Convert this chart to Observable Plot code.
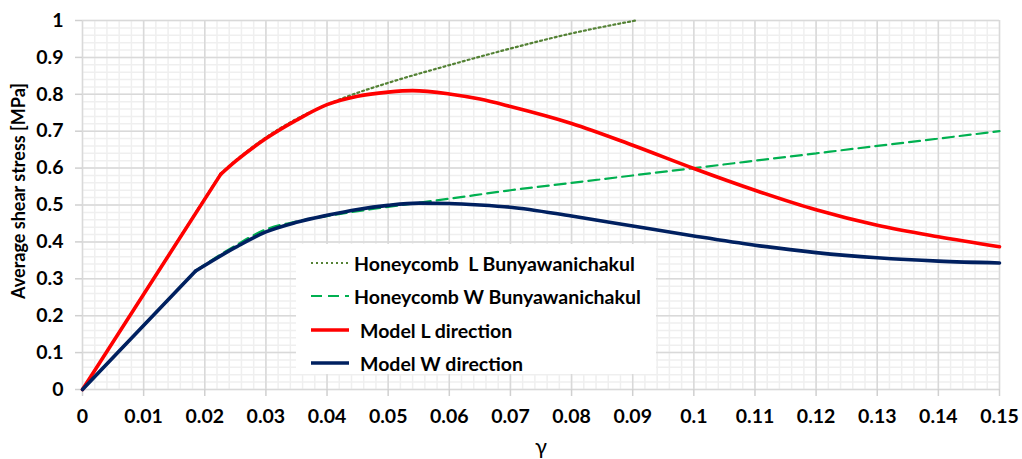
<!DOCTYPE html>
<html>
<head>
<meta charset="utf-8">
<script src="https://cdn.jsdelivr.net/npm/d3@7"></script>
<script src="https://cdn.jsdelivr.net/npm/@observablehq/plot@0.6"></script>
<style>
  html, body { margin: 0; padding: 0; background: #fff; }
  #wrap { position: relative; width: 1022px; height: 459px; font-family: Lato, "Open Sans", sans-serif; }
  #legend { position: absolute; left: 296px; top: 244px; width: 360px; height: 130px; background: #fff; }
  .row { position: absolute; left: 0; height: 30px; display: flex; align-items: center; font-weight: bold; font-size: 19.5px; color: #000; white-space: pre; }
  .row svg { margin-left: 14px; }
</style>
</head>
<body>
<div id="wrap"></div>
<script>
// ---- data ----
const xTicks = [0, 0.01, 0.02, 0.03, 0.04, 0.05, 0.06, 0.07, 0.08, 0.09, 0.1, 0.11, 0.12, 0.13, 0.14, 0.15];
const yTicks = [0, 0.1, 0.2, 0.3, 0.4, 0.5, 0.6, 0.7, 0.8, 0.9, 1];

// end of the initial straight (elastic) segment of each series
const kinkL = 0.0226;
const kinkW = 0.0185;

const gammaHL = [0, 0.0226, 0.025, 0.03, 0.035, 0.04, 0.0438, 0.05, 0.06, 0.07, 0.08, 0.0905];
const stressHL = [0, 0.585, 0.62, 0.683, 0.733, 0.772, 0.797, 0.831, 0.879, 0.924, 0.965, 1.0];

const gammaHW = [0, 0.0185, 0.025, 0.03, 0.035, 0.04, 0.05, 0.06, 0.07, 0.08, 0.09, 0.1, 0.11, 0.12, 0.13, 0.14, 0.15];
const stressHW = [0, 0.322, 0.39, 0.434, 0.455, 0.47, 0.495, 0.517, 0.54, 0.56, 0.58, 0.6, 0.62, 0.64, 0.66, 0.68, 0.70];

const gammaML = [0, 0.0226, 0.025, 0.03, 0.035, 0.04, 0.045, 0.05, 0.054, 0.06, 0.065, 0.07, 0.08, 0.09, 0.1, 0.11, 0.12, 0.13, 0.14, 0.15];
const stressML = [0, 0.583, 0.618, 0.68, 0.73, 0.772, 0.795, 0.806, 0.81, 0.801, 0.787, 0.767, 0.721, 0.662, 0.599, 0.54, 0.487, 0.445, 0.414, 0.387];

const gammaMW = [0, 0.0185, 0.025, 0.03, 0.035, 0.04, 0.045, 0.05, 0.055, 0.06, 0.065, 0.07, 0.08, 0.09, 0.1, 0.11, 0.12, 0.13, 0.14, 0.15];
const stressMW = [0, 0.321, 0.385, 0.427, 0.453, 0.472, 0.488, 0.499, 0.505, 0.504, 0.5, 0.494, 0.47, 0.443, 0.416, 0.391, 0.371, 0.357, 0.348, 0.343];

const seriesNames = ["Honeycomb  L Bunyawanichakul", "Honeycomb W Bunyawanichakul", "Model L direction", "Model W direction"];
const xLabel = "γ";
const yLabel = "Average shear stress [MPa]";

// ---- build tables ----
const toRows = (xs, ys) => xs.map((x, i) => ({x, y: ys[i]}));
const series = [
  {rows: toRows(gammaHL, stressHL), kink: kinkL},
  {rows: toRows(gammaHW, stressHW), kink: kinkW},
  {rows: toRows(gammaML, stressML), kink: kinkL},
  {rows: toRows(gammaMW, stressMW), kink: kinkW}
];

const xMinor = d3.range(0, 0.1501, 0.002);
const yMinor = d3.range(0, 1.0001, 0.02);

const styles = [
  {stroke: "#548235", strokeWidth: 2.2, strokeDasharray: "2,3"},
  {stroke: "#00B050", strokeWidth: 2.2, strokeDasharray: "11,6"},
  {stroke: "#FF0000", strokeWidth: 3.6},
  {stroke: "#002060", strokeWidth: 3.6}
];

const lineMarks = series.flatMap((s, i) => [
  Plot.line(s.rows.filter(d => d.x <= s.kink), {x: "x", y: "y", curve: "linear", ...styles[i]}),
  Plot.line(s.rows.filter(d => d.x >= s.kink), {x: "x", y: "y", curve: "monotone-x", ...styles[i]})
]);

const chart = Plot.plot({
  width: 1022,
  height: 459,
  marginLeft: 82,
  marginRight: 23,
  marginTop: 20,
  marginBottom: 70,
  style: {fontFamily: "Lato, 'Open Sans', sans-serif", fontSize: "19.5px", fontWeight: "bold", color: "#000", background: "#fff"},
  x: {domain: [0, 0.15]},
  y: {domain: [0, 1]},
  marks: [
    Plot.ruleX(xMinor, {stroke: "#efefef", strokeWidth: 1.5}),
    Plot.ruleY(yMinor, {stroke: "#efefef", strokeWidth: 1.5}),
    Plot.ruleX(xTicks, {stroke: "#d9d9d9", strokeWidth: 1.5}),
    Plot.ruleY(yTicks, {stroke: "#d9d9d9", strokeWidth: 1.5}),
    Plot.axisX({ticks: xTicks, tickSize: 7, tickPadding: 13, stroke: "#d0d0d0", strokeWidth: 1.5, tickFormat: d => String(d), label: null}),
    Plot.axisY({ticks: yTicks, tickSize: 7, tickPadding: 12, stroke: "#d0d0d0", strokeWidth: 1.5, tickFormat: d => String(d), label: null}),
    ...lineMarks,
    Plot.text([yLabel], {frameAnchor: "left", rotate: -90, dx: -63, dy: -14, fontSize: 18, fontWeight: "bold", textAnchor: "middle"}),
    Plot.text([xLabel], {frameAnchor: "bottom", dy: 64, fontSize: 22, fontWeight: "normal"})
  ]
});

const wrap = document.getElementById("wrap");
wrap.appendChild(chart);

// ---- legend ----
const legend = document.createElement("div");
legend.id = "legend";
const rowTops = [4, 37, 71, 104];
const textGap = [4, 4, 10, 10];
seriesNames.forEach((name, i) => {
  const row = document.createElement("div");
  row.className = "row";
  row.style.top = rowTops[i] + "px";
  const s = styles[i];
  const ns = "http://www.w3.org/2000/svg";
  const svg = document.createElementNS(ns, "svg");
  svg.setAttribute("width", 40);
  svg.setAttribute("height", 10);
  const ln = document.createElementNS(ns, "line");
  ln.setAttribute("x1", 1); ln.setAttribute("x2", 39);
  ln.setAttribute("y1", 5); ln.setAttribute("y2", 5);
  ln.setAttribute("stroke", s.stroke);
  ln.setAttribute("stroke-width", s.strokeWidth);
  if (s.strokeDasharray) ln.setAttribute("stroke-dasharray", s.strokeDasharray);
  svg.appendChild(ln);
  row.appendChild(svg);
  const t = document.createElement("span");
  t.textContent = name;
  t.style.marginLeft = textGap[i] + "px";
  row.appendChild(t);
  legend.appendChild(row);
});
wrap.appendChild(legend);
</script>
</body>
</html>
